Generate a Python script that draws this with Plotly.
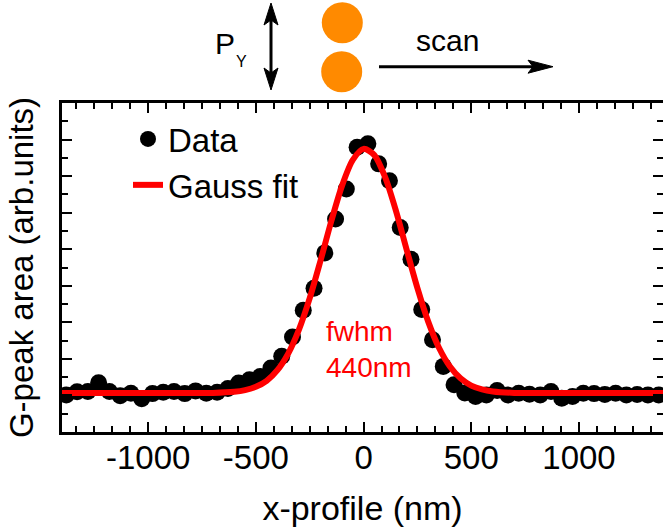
import plotly.graph_objects as go

# ---------------- data ----------------
x_data = [-1380, -1330, -1280, -1230, -1180, -1130, -1080, -1030, -980, -930,
          -880, -830, -780, -730, -680, -630, -580, -530, -480, -430,
          -380, -330, -280, -230, -180, -130, -80, -30, 20, 70,
          120, 170, 220, 270, 320, 370, 420, 470, 520, 570,
          620, 670, 720, 770, 820, 870, 920, 970, 1020, 1070,
          1120, 1170, 1220, 1270, 1320, 1370]
y_data = [2.03, 2.20, 2.22, 2.70, 2.22, 1.98, 2.12, 1.82, 2.10, 2.17,
          2.22, 2.10, 2.25, 2.12, 2.18, 2.38, 2.68, 2.86, 3.04, 3.50,
          4.14, 5.20, 6.66, 7.86, 9.80, 11.65, 13.30, 15.58, 15.77, 14.67,
          13.75, 11.19, 9.45, 6.70, 5.05, 3.59, 2.58, 2.13, 1.94, 2.03,
          2.27, 2.03, 2.12, 2.07, 2.03, 2.22, 1.85, 1.94, 2.12, 2.10,
          2.05, 2.12, 2.03, 2.05, 2.03, 2.03]

x_fit = [-1400, -1000, -800, -700, -600, -550, -500, -450, -400, -350,
         -300, -250, -200, -150, -100, -50, 0, 50, 100, 150,
         200, 250, 300, 350, 400, 450, 500, 550, 600, 700,
         800, 1000, 1400]
y_fit = [2.13, 2.13, 2.13, 2.14, 2.20, 2.29, 2.47, 2.80, 3.38, 4.29,
         5.60, 7.32, 9.37, 11.53, 13.48, 14.89, 15.49, 15.15, 13.94, 12.11,
         9.97, 7.87, 6.04, 4.61, 3.60, 2.94, 2.54, 2.33, 2.22, 2.14,
         2.13, 2.13, 2.13]

x_tickvals = [-1000, -500, 0, 500, 1000]
x_ticktext = ["-1000", "-500", "0", "500", "1000"]

# ---------------- figure ----------------
W, H = 663, 529
ML, MR, MT, MB = 62, 0, 103, 97
PW, PH = W - ML - MR, H - MT - MB
FONT = "Liberation Sans, Arial, sans-serif"


def xp(px):
    return (px - ML) / PW


def yp(py):
    return (H - MB - py) / PH


fig = go.Figure()
fig.add_trace(go.Scatter(
    x=x_data, y=y_data, mode="markers", name="Data",
    marker=dict(color="black", size=17, line=dict(width=0)),
))
fig.add_trace(go.Scatter(
    x=x_fit, y=y_fit, mode="lines", name="Gauss fit",
    line=dict(color="#ff0000", width=6, shape="spline", smoothing=0.8),
))

axis_common = dict(
    showgrid=False, zeroline=False, ticks="inside",
    tickcolor="black", tickwidth=2,
)

fig.update_layout(
    width=W, height=H,
    margin=dict(l=ML, r=MR, t=MT, b=MB),
    paper_bgcolor="white", plot_bgcolor="white",
    font=dict(family=FONT, size=33, color="black"),
    xaxis=dict(
        range=[-1400, 1390], **axis_common,
        ticklen=10, showline=True, linewidth=3, linecolor="black",
        mirror="ticks",
        tickvals=x_tickvals, ticktext=x_ticktext,
        ticklabelstandoff=-6,
        minor=dict(dtick=500 / 6, tick0=0, ticks="inside", ticklen=6,
                   tickwidth=2, tickcolor="black"),
        tickfont=dict(size=33),
        title=dict(text="x-profile (nm)", font=dict(size=34), standoff=22),
    ),
    yaxis=dict(
        range=[0, 18], **axis_common,
        ticklen=10, dtick=2, tick0=0, showticklabels=False,
        showline=True, linewidth=3, linecolor="black", mirror=False,
        minor=dict(dtick=1, ticks="inside", ticklen=6, tickwidth=2,
                   tickcolor="black"),
        title=dict(text="G-peak area (arb.units)", font=dict(size=33),
                   standoff=16),
    ),
    yaxis2=dict(
        range=[0, 18], overlaying="y", side="right", anchor="x",
        showgrid=False, zeroline=False, showline=False,
        ticks="inside", ticklen=10, tickwidth=2, tickcolor="black",
        dtick=2, tick0=0, showticklabels=False,
        minor=dict(dtick=1, ticks="inside", ticklen=6, tickwidth=2,
                   tickcolor="black"),
    ),
    legend=dict(
        x=xp(128), y=yp(111), xanchor="left", yanchor="top",
        bgcolor="rgba(0,0,0,0)", font=dict(size=33),
        itemsizing="trace", tracegroupgap=0,
    ),
    showlegend=True,
)

# invisible helper trace so the right-hand tick axis is drawn
fig.add_trace(go.Scatter(x=[None], y=[None], yaxis="y2", showlegend=False,
                         hoverinfo="skip"))

# fwhm label
fig.add_annotation(
    x=xp(324), y=yp(349), xref="paper", yref="paper",
    text="fwhm<br>440nm", showarrow=False, align="left",
    xanchor="left", yanchor="middle",
    font=dict(family=FONT, size=28, color="#ff0000"),
)

# schematic above the plot: polarisation label, two dots, arrows, "scan"
fig.add_annotation(
    x=xp(213), y=yp(44), xref="paper", yref="paper",
    text="P", showarrow=False, xanchor="left", yanchor="middle",
    font=dict(family=FONT, size=30, color="black"),
)
fig.add_annotation(
    x=xp(234), y=yp(61), xref="paper", yref="paper",
    text="Y", showarrow=False, xanchor="left", yanchor="middle",
    font=dict(family=FONT, size=16, color="black"),
)
fig.add_annotation(
    x=xp(447), y=yp(40), xref="paper", yref="paper",
    text="scan", showarrow=False, xanchor="center", yanchor="middle",
    font=dict(family=FONT, size=30, color="black"),
)

# vertical double arrow (line + two heads)
fig.add_shape(type="line", xref="paper", yref="paper",
              x0=xp(271), x1=xp(271), y0=yp(18), y1=yp(75),
              line=dict(color="black", width=3))
fig.add_shape(type="path", xref="paper", yref="paper",
              xsizemode="pixel", ysizemode="pixel",
              xanchor=xp(271), yanchor=yp(3),
              path="M 0 0 L -7 -22 L 0 -17 L 7 -22 Z",
              fillcolor="black", line=dict(color="black", width=1))
fig.add_shape(type="path", xref="paper", yref="paper",
              xsizemode="pixel", ysizemode="pixel",
              xanchor=xp(271), yanchor=yp(90),
              path="M 0 0 L -7 22 L 0 17 L 7 22 Z",
              fillcolor="black", line=dict(color="black", width=1))

# horizontal scan arrow
fig.add_shape(type="line", xref="paper", yref="paper",
              x0=xp(379), x1=xp(540), y0=yp(66.7), y1=yp(66.7),
              line=dict(color="black", width=3))
fig.add_shape(type="path", xref="paper", yref="paper",
              xsizemode="pixel", ysizemode="pixel",
              xanchor=xp(553), yanchor=yp(66.7),
              path="M 0 0 L -25 6.5 L -20 0 L -25 -6.5 Z",
              fillcolor="black", line=dict(color="black", width=1))

for cx, cy in [(342.3, 22.7), (341.7, 71.7)]:
    fig.add_shape(
        type="circle", xref="paper", yref="paper",
        xsizemode="pixel", ysizemode="pixel",
        xanchor=xp(cx), yanchor=yp(cy),
        x0=-20.5, x1=20.5, y0=-20.5, y1=20.5,
        fillcolor="#ff8a00", line=dict(width=0), layer="above",
    )

fig.write_html("out.html")
